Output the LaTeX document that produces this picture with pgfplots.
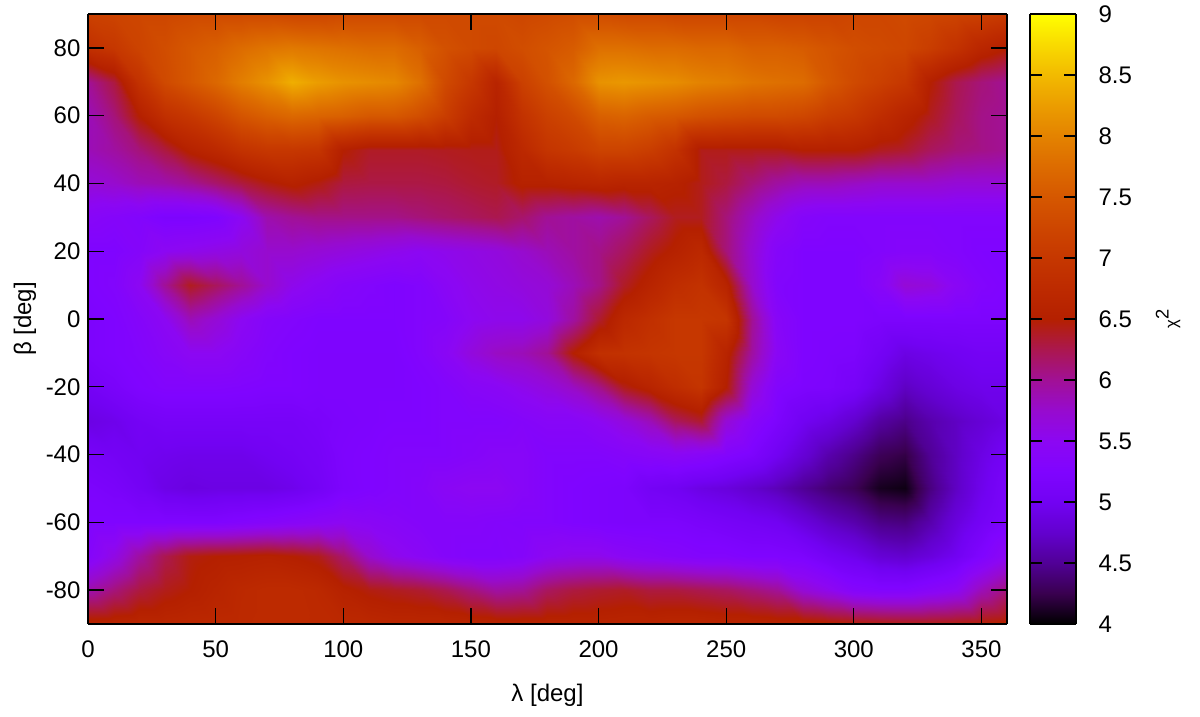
\documentclass[border=0pt]{standalone}
\usepackage{fontspec}
\setmainfont{Liberation Sans}
\usepackage{pgfplots}
\pgfplotsset{compat=1.18}
\pgfplotsset{colormap={gp}{
rgb=(0,0,0) rgb=(.224,.000125,.309) rgb=(.316,.001,.588) rgb=(.387,.003,.809) rgb=(.447,.008,.951)
rgb=(.5,.016,1) rgb=(.548,.027,.951) rgb=(.592,.043,.809) rgb=(.632,.064,.588) rgb=(.671,.091,.309)
rgb=(.707,.125,0) rgb=(.742,.166,0) rgb=(.775,.216,0) rgb=(.806,.275,0) rgb=(.837,.343,0)
rgb=(.866,.422,0) rgb=(.894,.512,0) rgb=(.922,.614,0) rgb=(.949,.729,0) rgb=(.975,.857,0) rgb=(1,1,0)}}
\begin{document}
\begin{tikzpicture}
\useasboundingbox (0,0) rectangle (720pt,430.2pt);
\begin{axis}[
  at={(52.8pt,55.8pt)}, anchor=south west,
  width=551.4pt, height=366pt, scale only axis,
  view={0}{90}, axis on top,
  xmin=0, xmax=360, ymin=-90, ymax=90,
  xtick={0,50,...,350}, ytick={-80,-60,...,80},
  colormap name=gp, point meta min=4, point meta max=9,
  tick align=inside, tick pos=both, xticklabel pos=lower, yticklabel pos=left,
  major tick length=9.3pt,
  axis line style={line width=1.1pt,black},
  tick style={line width=0.8pt,black},
  /pgf/number format/assume math mode=true,
  tick label style={font=\fontsize{14.4}{16}\selectfont},
  label style={font=\fontsize{14.4}{16}\selectfont},
  xticklabel style={yshift=-6.5pt},
  yticklabel style={xshift=-1pt},
  xlabel={λ [deg]}, ylabel={β [deg]},
  xlabel style={at={(axis description cs:0.5,-0.1164)}, anchor=center},
  ylabel style={at={(axis description cs:-0.0686,0.5)}, anchor=center},
]
\addplot3[surf, shader=interp, mesh/rows=19, mesh/cols=37] table[row sep=\\, x index=0, y index=1, z index=2, header=false] {
0 90 7.15\\10 90 7.2\\20 90 7.25\\30 90 7.25\\40 90 7.3\\50 90 7.3\\60 90 7.3\\70 90 7.3\\80 90 7.25\\90 90 7.25\\100 90 7.3\\110 90 7.3\\120 90 7.3\\130 90 7.3\\140 90 7.3\\150 90 7.3\\160 90 7.3\\170 90 7.25\\180 90 7.3\\190 90 7.35\\200 90 7.35\\210 90 7.3\\220 90 7.3\\230 90 7.25\\240 90 7.25\\250 90 7.25\\260 90 7.25\\270 90 7.2\\280 90 7.2\\290 90 7.2\\300 90 7.25\\310 90 7.25\\320 90 7.3\\330 90 7.25\\340 90 7.2\\350 90 7.15\\360 90 7.05\\
0 80 6.85\\10 80 7.0\\20 80 7.2\\30 80 7.35\\40 80 7.5\\50 80 7.6\\60 80 7.75\\70 80 7.85\\80 80 7.9\\90 80 7.85\\100 80 7.8\\110 80 7.75\\120 80 7.75\\130 80 7.6\\140 80 7.4\\150 80 7.3\\160 80 7.25\\170 80 7.35\\180 80 7.45\\190 80 7.55\\200 80 7.8\\210 80 7.8\\220 80 7.75\\230 80 7.75\\240 80 7.7\\250 80 7.7\\260 80 7.6\\270 80 7.6\\280 80 7.55\\290 80 7.45\\300 80 7.35\\310 80 7.3\\320 80 7.25\\330 80 7.1\\340 80 6.9\\350 80 6.65\\360 80 6.5\\
0 70 6.0\\10 70 6.3\\20 70 6.9\\30 70 7.3\\40 70 7.5\\50 70 7.7\\60 70 7.95\\70 70 8.15\\80 70 8.4\\90 70 8.25\\100 70 8.15\\110 70 8.1\\120 70 8.05\\130 70 7.8\\140 70 7.3\\150 70 7.0\\160 70 6.6\\170 70 7.15\\180 70 7.4\\190 70 7.7\\200 70 8.15\\210 70 8.2\\220 70 8.15\\230 70 8.1\\240 70 8.0\\250 70 7.95\\260 70 7.85\\270 70 7.8\\280 70 7.75\\290 70 7.5\\300 70 7.3\\310 70 7.15\\320 70 7.0\\330 70 6.5\\340 70 6.25\\350 70 6.1\\360 70 6.0\\
0 60 5.85\\10 60 6.1\\20 60 6.5\\30 60 6.85\\40 60 7.0\\50 60 7.2\\60 60 7.45\\70 60 7.6\\80 60 7.7\\90 60 7.65\\100 60 7.6\\110 60 7.5\\120 60 7.5\\130 60 7.35\\140 60 7.1\\150 60 6.75\\160 60 6.5\\170 60 6.9\\180 60 7.15\\190 60 7.3\\200 60 7.6\\210 60 7.65\\220 60 7.55\\230 60 7.5\\240 60 7.4\\250 60 7.35\\260 60 7.3\\270 60 7.3\\280 60 7.25\\290 60 7.1\\300 60 7.0\\310 60 6.8\\320 60 6.6\\330 60 6.4\\340 60 6.2\\350 60 6.05\\360 60 6.0\\
0 50 5.85\\10 50 5.95\\20 50 6.1\\30 50 6.3\\40 50 6.55\\50 50 6.7\\60 50 6.9\\70 50 7.0\\80 50 7.0\\90 50 6.95\\100 50 6.5\\110 50 6.38\\120 50 6.38\\130 50 6.38\\140 50 6.4\\150 50 6.42\\160 50 6.42\\170 50 6.7\\180 50 6.95\\190 50 7.05\\200 50 7.2\\210 50 7.2\\220 50 7.1\\230 50 6.9\\240 50 6.42\\250 50 6.42\\260 50 6.42\\270 50 6.42\\280 50 6.5\\290 50 6.5\\300 50 6.5\\310 50 6.4\\320 50 6.35\\330 50 6.2\\340 50 6.1\\350 50 6.05\\360 50 6.0\\
0 40 5.7\\10 40 5.75\\20 40 5.85\\30 40 5.9\\40 40 6.0\\50 40 6.15\\60 40 6.3\\70 40 6.45\\80 40 6.55\\90 40 6.45\\100 40 6.3\\110 40 6.28\\120 40 6.28\\130 40 6.28\\140 40 6.3\\150 40 6.35\\160 40 6.38\\170 40 6.55\\180 40 6.55\\190 40 6.6\\200 40 6.65\\210 40 6.6\\220 40 6.6\\230 40 6.55\\240 40 6.42\\250 40 6.3\\260 40 6.1\\270 40 5.95\\280 40 5.85\\290 40 5.85\\300 40 5.8\\310 40 5.75\\320 40 5.75\\330 40 5.75\\340 40 5.7\\350 40 5.7\\360 40 5.7\\
0 30 5.4\\10 30 5.35\\20 30 5.3\\30 30 5.2\\40 30 5.2\\50 30 5.25\\60 30 5.5\\70 30 5.9\\80 30 6.0\\90 30 6.05\\100 30 6.05\\110 30 6.05\\120 30 6.05\\130 30 6.1\\140 30 6.15\\150 30 6.2\\160 30 6.25\\170 30 6.15\\180 30 6.0\\190 30 5.95\\200 30 5.9\\210 30 6.0\\220 30 6.2\\230 30 6.4\\240 30 6.4\\250 30 6.1\\260 30 5.8\\270 30 5.55\\280 30 5.35\\290 30 5.3\\300 30 5.3\\310 30 5.3\\320 30 5.3\\330 30 5.3\\340 30 5.3\\350 30 5.3\\360 30 5.3\\
0 20 5.25\\10 20 5.25\\20 20 5.35\\30 20 5.5\\40 20 5.55\\50 20 5.6\\60 20 5.65\\70 20 5.75\\80 20 5.75\\90 20 5.7\\100 20 5.65\\110 20 5.6\\120 20 5.55\\130 20 5.5\\140 20 5.55\\150 20 5.6\\160 20 5.65\\170 20 5.75\\180 20 5.85\\190 20 5.95\\200 20 6.05\\210 20 6.2\\220 20 6.4\\230 20 6.55\\240 20 6.7\\250 20 6.1\\260 20 5.7\\270 20 5.35\\280 20 5.25\\290 20 5.25\\300 20 5.25\\310 20 5.3\\320 20 5.35\\330 20 5.35\\340 20 5.3\\350 20 5.25\\360 20 5.25\\
0 10 5.25\\10 10 5.3\\20 10 5.5\\30 10 6.0\\40 10 6.4\\50 10 6.2\\60 10 6.0\\70 10 5.75\\80 10 5.55\\90 10 5.45\\100 10 5.35\\110 10 5.3\\120 10 5.25\\130 10 5.3\\140 10 5.45\\150 10 5.55\\160 10 5.6\\170 10 5.65\\180 10 5.7\\190 10 5.85\\200 10 6.05\\210 10 6.38\\220 10 6.6\\230 10 6.8\\240 10 6.9\\250 10 6.6\\260 10 5.75\\270 10 5.3\\280 10 5.25\\290 10 5.25\\300 10 5.25\\310 10 5.4\\320 10 5.7\\330 10 5.65\\340 10 5.45\\350 10 5.3\\360 10 5.25\\
0 0 5.2\\10 0 5.25\\20 0 5.35\\30 0 5.5\\40 0 5.85\\50 0 5.7\\60 0 5.5\\70 0 5.35\\80 0 5.3\\90 0 5.25\\100 0 5.25\\110 0 5.25\\120 0 5.25\\130 0 5.3\\140 0 5.35\\150 0 5.5\\160 0 5.55\\170 0 5.55\\180 0 5.65\\190 0 5.95\\200 0 6.35\\210 0 6.7\\220 0 6.85\\230 0 7.0\\240 0 7.0\\250 0 6.95\\260 0 6.0\\270 0 5.4\\280 0 5.25\\290 0 5.25\\300 0 5.25\\310 0 5.2\\320 0 5.2\\330 0 5.2\\340 0 5.2\\350 0 5.2\\360 0 5.2\\
0 -10 5.2\\10 -10 5.25\\20 -10 5.3\\30 -10 5.4\\40 -10 5.5\\50 -10 5.5\\60 -10 5.4\\70 -10 5.3\\80 -10 5.25\\90 -10 5.22\\100 -10 5.22\\110 -10 5.22\\120 -10 5.22\\130 -10 5.3\\140 -10 5.45\\150 -10 5.65\\160 -10 5.8\\170 -10 5.85\\180 -10 6.0\\190 -10 6.5\\200 -10 6.85\\210 -10 6.9\\220 -10 6.95\\230 -10 7.0\\240 -10 7.0\\250 -10 6.6\\260 -10 5.95\\270 -10 5.45\\280 -10 5.25\\290 -10 5.22\\300 -10 5.2\\310 -10 5.05\\320 -10 4.9\\330 -10 4.95\\340 -10 5.0\\350 -10 5.05\\360 -10 5.05\\
0 -20 5.05\\10 -20 5.15\\20 -20 5.25\\30 -20 5.3\\40 -20 5.3\\50 -20 5.3\\60 -20 5.28\\70 -20 5.25\\80 -20 5.25\\90 -20 5.22\\100 -20 5.22\\110 -20 5.22\\120 -20 5.22\\130 -20 5.25\\140 -20 5.3\\150 -20 5.4\\160 -20 5.45\\170 -20 5.55\\180 -20 5.65\\190 -20 5.8\\200 -20 6.05\\210 -20 6.42\\220 -20 6.6\\230 -20 6.8\\240 -20 6.95\\250 -20 6.5\\260 -20 5.7\\270 -20 5.3\\280 -20 5.22\\290 -20 5.2\\300 -20 5.1\\310 -20 4.9\\320 -20 4.7\\330 -20 4.8\\340 -20 4.9\\350 -20 4.95\\360 -20 4.95\\
0 -30 4.9\\10 -30 4.95\\20 -30 5.05\\30 -30 5.1\\40 -30 5.1\\50 -30 5.1\\60 -30 5.1\\70 -30 5.1\\80 -30 5.1\\90 -30 5.15\\100 -30 5.2\\110 -30 5.22\\120 -30 5.25\\130 -30 5.25\\140 -30 5.3\\150 -30 5.3\\160 -30 5.3\\170 -30 5.35\\180 -30 5.4\\190 -30 5.4\\200 -30 5.5\\210 -30 5.65\\220 -30 5.85\\230 -30 6.2\\240 -30 6.35\\250 -30 5.7\\260 -30 5.4\\270 -30 5.2\\280 -30 5.0\\290 -30 4.9\\300 -30 4.75\\310 -30 4.55\\320 -30 4.45\\330 -30 4.6\\340 -30 4.7\\350 -30 4.8\\360 -30 4.9\\
0 -40 5.1\\10 -40 5.05\\20 -40 5.0\\30 -40 4.97\\40 -40 4.95\\50 -40 4.95\\60 -40 4.95\\70 -40 5.0\\80 -40 5.05\\90 -40 5.1\\100 -40 5.22\\110 -40 5.25\\120 -40 5.3\\130 -40 5.3\\140 -40 5.3\\150 -40 5.35\\160 -40 5.4\\170 -40 5.4\\180 -40 5.3\\190 -40 5.3\\200 -40 5.3\\210 -40 5.35\\220 -40 5.4\\230 -40 5.45\\240 -40 5.4\\250 -40 5.3\\260 -40 5.2\\270 -40 5.0\\280 -40 4.8\\290 -40 4.6\\300 -40 4.45\\310 -40 4.28\\320 -40 4.22\\330 -40 4.5\\340 -40 4.7\\350 -40 4.9\\360 -40 5.05\\
0 -50 5.2\\10 -50 5.15\\20 -50 5.05\\30 -50 4.92\\40 -50 4.88\\50 -50 4.9\\60 -50 4.9\\70 -50 4.9\\80 -50 4.95\\90 -50 5.05\\100 -50 5.2\\110 -50 5.25\\120 -50 5.3\\130 -50 5.35\\140 -50 5.45\\150 -50 5.5\\160 -50 5.5\\170 -50 5.4\\180 -50 5.3\\190 -50 5.25\\200 -50 5.22\\210 -50 5.2\\220 -50 5.05\\230 -50 5.0\\240 -50 4.9\\250 -50 4.85\\260 -50 4.75\\270 -50 4.65\\280 -50 4.5\\290 -50 4.38\\300 -50 4.28\\310 -50 4.1\\320 -50 4.06\\330 -50 4.42\\340 -50 4.7\\350 -50 4.95\\360 -50 5.15\\
0 -60 5.25\\10 -60 5.25\\20 -60 5.25\\30 -60 5.25\\40 -60 5.25\\50 -60 5.25\\60 -60 5.3\\70 -60 5.35\\80 -60 5.4\\90 -60 5.45\\100 -60 5.5\\110 -60 5.45\\120 -60 5.4\\130 -60 5.35\\140 -60 5.35\\150 -60 5.35\\160 -60 5.32\\170 -60 5.3\\180 -60 5.3\\190 -60 5.25\\200 -60 5.22\\210 -60 5.2\\220 -60 5.2\\230 -60 5.2\\240 -60 5.15\\250 -60 5.1\\260 -60 5.05\\270 -60 5.0\\280 -60 4.85\\290 -60 4.7\\300 -60 4.6\\310 -60 4.45\\320 -60 4.42\\330 -60 4.6\\340 -60 4.85\\350 -60 5.05\\360 -60 5.2\\
0 -70 5.35\\10 -70 5.6\\20 -70 5.95\\30 -70 6.25\\40 -70 6.45\\50 -70 6.5\\60 -70 6.52\\70 -70 6.55\\80 -70 6.5\\90 -70 6.42\\100 -70 6.15\\110 -70 5.75\\120 -70 5.55\\130 -70 5.45\\140 -70 5.35\\150 -70 5.3\\160 -70 5.3\\170 -70 5.35\\180 -70 5.5\\190 -70 5.55\\200 -70 5.55\\210 -70 5.45\\220 -70 5.4\\230 -70 5.35\\240 -70 5.3\\250 -70 5.3\\260 -70 5.25\\270 -70 5.25\\280 -70 5.2\\290 -70 5.05\\300 -70 4.95\\310 -70 4.8\\320 -70 4.75\\330 -70 4.85\\340 -70 5.0\\350 -70 5.25\\360 -70 5.5\\
0 -80 5.9\\10 -80 6.1\\20 -80 6.3\\30 -80 6.42\\40 -80 6.5\\50 -80 6.6\\60 -80 6.7\\70 -80 6.75\\80 -80 6.75\\90 -80 6.7\\100 -80 6.55\\110 -80 6.45\\120 -80 6.4\\130 -80 6.35\\140 -80 6.25\\150 -80 6.1\\160 -80 5.95\\170 -80 6.0\\180 -80 6.2\\190 -80 6.3\\200 -80 6.35\\210 -80 6.38\\220 -80 6.3\\230 -80 6.3\\240 -80 6.25\\250 -80 6.2\\260 -80 6.1\\270 -80 6.0\\280 -80 5.7\\290 -80 5.55\\300 -80 5.35\\310 -80 5.3\\320 -80 5.3\\330 -80 5.4\\340 -80 5.5\\350 -80 5.85\\360 -80 6.1\\
0 -90 6.6\\10 -90 6.62\\20 -90 6.65\\30 -90 6.65\\40 -90 6.68\\50 -90 6.7\\60 -90 6.72\\70 -90 6.75\\80 -90 6.75\\90 -90 6.72\\100 -90 6.7\\110 -90 6.68\\120 -90 6.65\\130 -90 6.65\\140 -90 6.65\\150 -90 6.62\\160 -90 6.6\\170 -90 6.6\\180 -90 6.6\\190 -90 6.6\\200 -90 6.6\\210 -90 6.62\\220 -90 6.62\\230 -90 6.65\\240 -90 6.65\\250 -90 6.62\\260 -90 6.62\\270 -90 6.6\\280 -90 6.6\\290 -90 6.55\\300 -90 6.5\\310 -90 6.47\\320 -90 6.45\\330 -90 6.45\\340 -90 6.47\\350 -90 6.5\\360 -90 6.55\\
};
\end{axis}
\begin{axis}[
  at={(618pt,55.8pt)}, anchor=south west,
  width=27.6pt, height=366pt, scale only axis,
  view={0}{90}, axis on top,
  xmin=0, xmax=1, ymin=4, ymax=9,
  xtick=\empty, ytick={4,4.5,...,9},
  colormap name=gp, point meta min=4, point meta max=9,
  tick align=inside, ytick pos=both, yticklabel pos=right,
  major tick length=7pt,
  axis line style={line width=1.1pt,black},
  tick style={line width=0.8pt,black},
  /pgf/number format/assume math mode=true,
  tick label style={font=\fontsize{14.4}{16}\selectfont},
  label style={font=\fontsize{14.4}{16}\selectfont},
  yticklabel style={xshift=10pt, /pgf/number format/fixed},
  ylabel={χ\raisebox{0.5em}{\fontsize{11}{11}\selectfont 2}},
  ylabel near ticks,
  ylabel style={at={(axis description cs:3.0,0.5)}, anchor=center},
]
\addplot3[surf, shader=interp, mesh/rows=2, mesh/cols=2, point meta=y] table[row sep=\\, x index=0, y index=1, z index=2, header=false] {
0 4 0\\1 4 0\\0 9 0\\1 9 0\\
};
\end{axis}
\end{tikzpicture}
\end{document}
